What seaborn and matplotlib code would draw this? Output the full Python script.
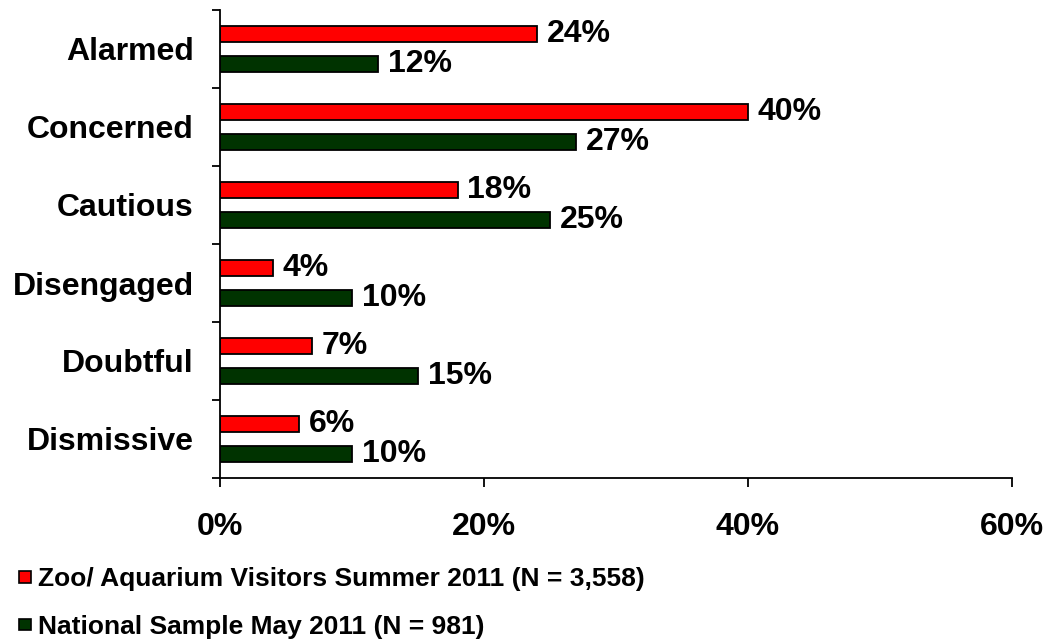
import pandas as pd
import matplotlib.pyplot as plt
import seaborn as sns
from matplotlib.patches import Patch
from matplotlib.ticker import FixedLocator

categories = ['Alarmed', 'Concerned', 'Cautious', 'Disengaged', 'Doubtful', 'Dismissive']
zoo = [24, 40, 18, 4, 7, 6]
national = [12, 27, 25, 10, 15, 10]
series_names = ['Zoo/ Aquarium Visitors Summer 2011 (N = 3,558)',
                'National Sample May 2011 (N = 981)']
colors = ['#ff0000', '#003300']
x_ticks = [0, 20, 40, 60]

df = pd.DataFrame({'category': categories, series_names[0]: zoo, series_names[1]: national})
df = df.melt(id_vars='category', var_name='series', value_name='pct')

sns.set_style('white')
plt.rcParams['font.family'] = ['Liberation Sans', 'DejaVu Sans']
plt.rcParams['font.weight'] = 'bold'
plt.rcParams['text.color'] = 'black'
plt.rcParams['xtick.color'] = 'black'
plt.rcParams['ytick.color'] = 'black'

fig = plt.figure(figsize=(10.51, 6.43), dpi=100)
ax = fig.add_axes([220 / 1051, 1 - 478 / 643, (1012 - 220) / 1051, (478 - 10) / 643])

sns.barplot(data=df, y='category', x='pct', hue='series', order=categories,
            hue_order=series_names, palette=colors, saturation=1, width=0.76, gap=0.46,
            edgecolor='black', linewidth=1.3, orient='h', ax=ax, legend=False)

for cont in ax.containers:
    vals = [int(round(b.get_width())) for b in cont]
    ax.bar_label(cont, labels=[f'{v}%' for v in vals], padding=7,
                 fontsize=23, fontweight='bold', color='black')

ax.set_xlim(0, 60)
ax.set_ylim(len(categories) - 0.5, -0.5)
ax.set_xticks(x_ticks)
ax.set_xticklabels([f'{t}%' for t in x_ticks], fontsize=23, fontweight='bold')
ax.tick_params(axis='x', direction='out', length=6.5, width=1.3, pad=18, bottom=True)
ax.set_yticks(range(len(categories)))
ax.set_yticklabels(categories, fontsize=23, fontweight='bold')
ax.tick_params(axis='y', which='major', length=0, pad=19)
ax.yaxis.set_minor_locator(FixedLocator([i - 0.5 for i in range(len(categories) + 1)]))
ax.tick_params(axis='y', which='minor', direction='out', length=6, width=1.3, left=True)
ax.set_xlabel('')
ax.set_ylabel('')
sns.despine(ax=ax)
for s in ['left', 'bottom']:
    ax.spines[s].set_linewidth(1.3)
    ax.spines[s].set_color('black')

handles = [Patch(facecolor=c, edgecolor='black', linewidth=1.2) for c in colors]
fig.legend(handles, series_names, loc='lower left', bbox_to_anchor=(19 / 1051, 4 / 643),
           frameon=False, borderpad=0, borderaxespad=0, handlelength=0.46,
           handleheight=0.32, handletextpad=0.25, labelspacing=0.9,
           prop={'family': ['Liberation Sans Narrow', 'Liberation Sans'],
                 'weight': 'bold', 'size': 19})

fig.savefig('out.png', dpi=100)
